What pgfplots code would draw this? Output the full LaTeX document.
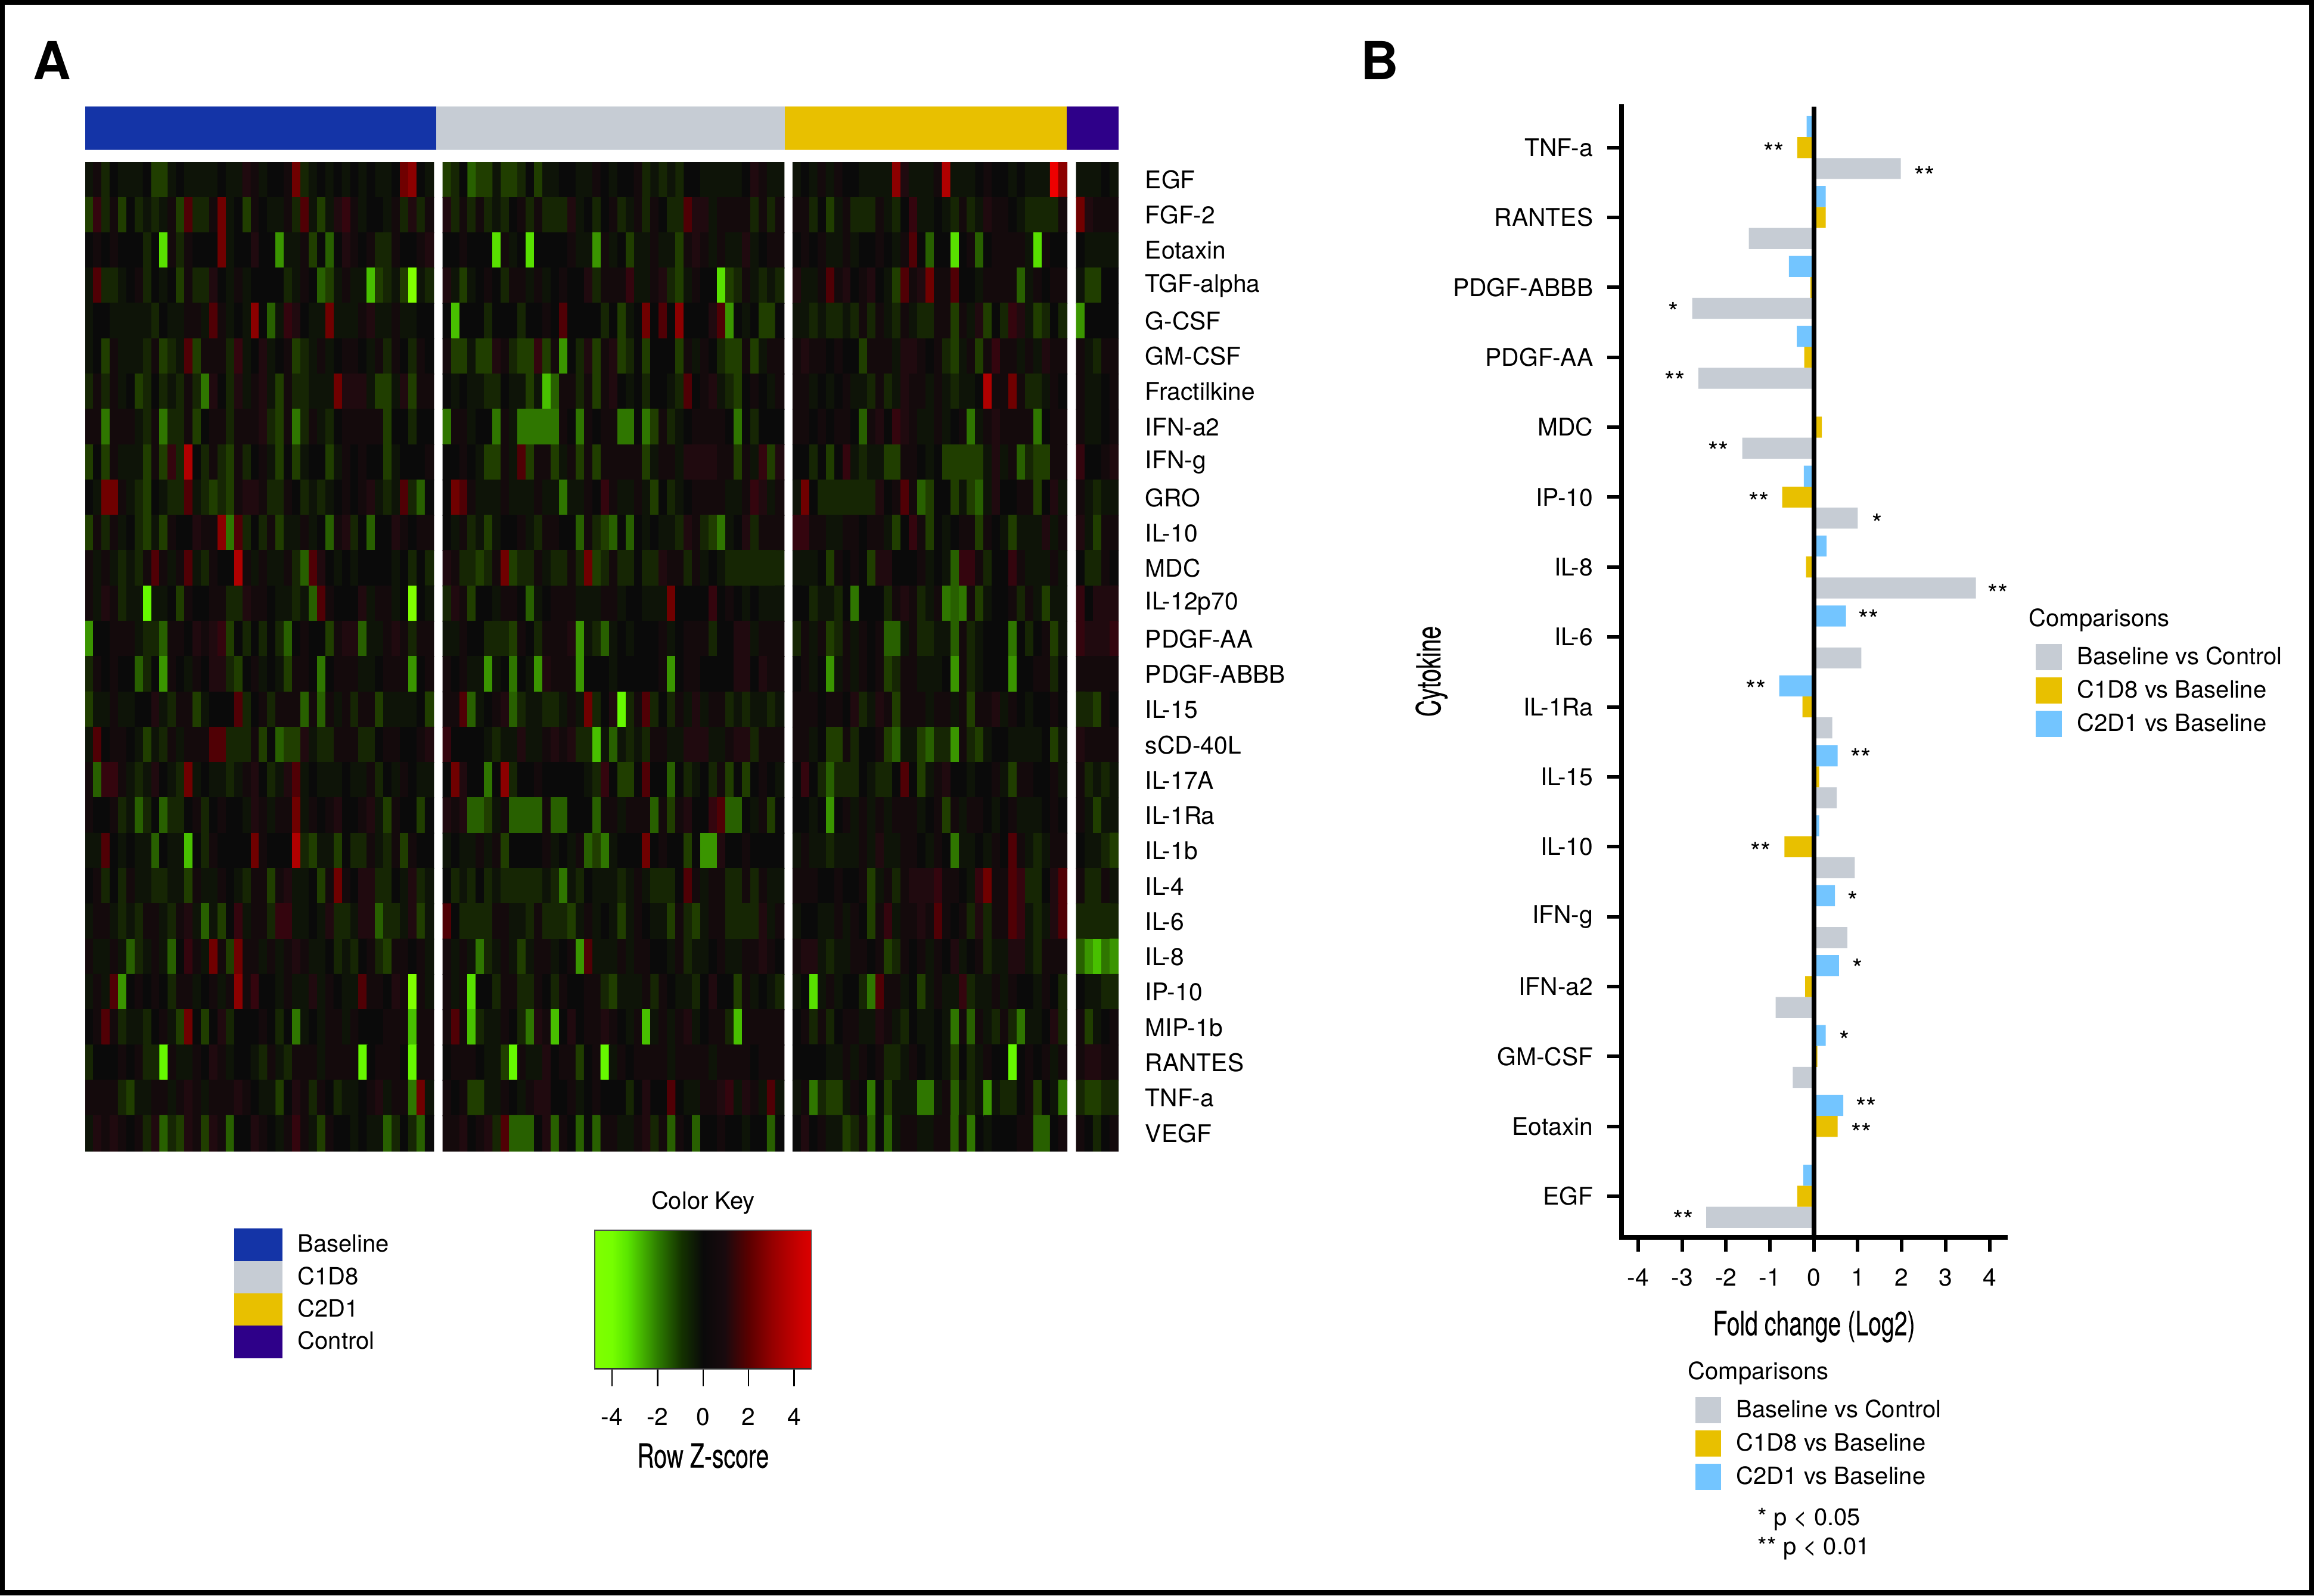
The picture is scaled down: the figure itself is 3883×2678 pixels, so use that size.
\documentclass[border=0pt]{standalone}
\usepackage{pgfplots}
\usepackage{pgfplotstable}
\usepackage{fontspec}
\pgfplotsset{compat=1.18}
\setmainfont{TeX Gyre Heros}
\newfontfamily\narrow[FakeStretch=0.7,FakeBold=0.3]{TeX Gyre Heros}
\newcommand\lab{\fontsize{10.2pt}{12pt}\selectfont}
\newcommand\leg{\fontsize{10pt}{12pt}\selectfont}
\newcommand\ttl{\fontsize{14pt}{16pt}\selectfont\narrow}
\definecolor{cblue}{RGB}{20,52,167}
\definecolor{cgray}{RGB}{198,204,212}
\definecolor{cyel}{RGB}{232,192,0}
\definecolor{cpur}{RGB}{46,0,137}
\definecolor{csky}{RGB}{115,197,255}
\definecolor{k0}{RGB}{128,255,0}\definecolor{k1}{RGB}{118,255,0}\definecolor{k2}{RGB}{90,230,0}
\definecolor{k3}{RGB}{45,125,0}\definecolor{k4}{RGB}{20,50,0}\definecolor{k5}{RGB}{10,10,10}
\definecolor{k6}{RGB}{25,10,14}\definecolor{k7}{RGB}{90,0,0}\definecolor{k8}{RGB}{150,0,0}
\definecolor{k9}{RGB}{205,0,0}\definecolor{k10}{RGB}{220,0,0}
\pgfdeclarehorizontalshading{hk}{100bp}{color(0bp)=(k0); color(25bp)=(k0); color(29bp)=(k1); color(32.5bp)=(k2); color(39.5bp)=(k3); color(45bp)=(k4); color(50bp)=(k5); color(55bp)=(k6); color(60.5bp)=(k7); color(66bp)=(k8); color(72.5bp)=(k9); color(75bp)=(k10); color(100bp)=(k10)}
\pgfplotsset{colormap={hm}{rgb255=(128,255,0) rgb255=(102,248,0) rgb255=(88,224,0) rgb255=(72,192,0) rgb255=(58,149,0) rgb255=(47,118,0) rgb255=(40,96,0) rgb255=(32,62,0) rgb255=(22,38,4) rgb255=(14,20,8) rgb255=(10,10,10) rgb255=(20,10,12) rgb255=(32,10,15) rgb255=(52,5,14) rgb255=(80,0,5) rgb255=(112,0,0) rgb255=(140,0,0) rgb255=(176,0,0) rgb255=(210,0,0) rgb255=(238,0,0) rgb255=(238,0,0)}}
\pgfplotstableread{
y gray yellow blue
15 1.98 -0.38 -0.165
14 -1.48 0.27 0.27
13 -2.77 -0.08 -0.57
12 -2.63 -0.22 -0.39
11 -1.63 0.18 0
10 1.0 -0.72 -0.23
9 3.69 -0.18 0.29
8 1.08 -0.05 0.73
7 0.42 -0.26 -0.79
6 0.52 0.12 0.54
5 0.93 -0.67 0.12
4 0.76 0.03 0.48
3 -0.87 -0.2 0.57
2 -0.48 0.08 0.27
1 0 0.54 0.67
0 -2.45 -0.38 -0.24
}\bardata
\begin{document}
\begin{tikzpicture}[x=0.25pt,y=-0.25pt,font=\lab]
\fill[black] (0,0) rectangle (3883,2678);
\fill[white] (8,8) rectangle (3875,2669);
\coordinate (pa) at (143,251.5);\coordinate (pb) at (143,1932);\coordinate (pc) at (2721,2077);\coordinate (pd) at (998,2298);
\node[font=\fontsize{22pt}{24pt}\selectfont\bfseries] at (87,101) {A};
\node[font=\fontsize{22pt}{24pt}\selectfont\bfseries] at (2315,101) {B};
% group bar
\begin{axis}[at={(pa)},anchor=south west,scale only axis,width=433.5pt,height=18.2pt,xmin=143,xmax=1877,ymin=0,ymax=1,hide axis]
\addplot[fill=cblue,draw=none] coordinates {(143,0)(732,0)(732,1)(143,1)} \closedcycle;
\addplot[fill=cgray,draw=none] coordinates {(732,0)(1317,0)(1317,1)(732,1)} \closedcycle;
\addplot[fill=cyel,draw=none] coordinates {(1317,0)(1790,0)(1790,1)(1317,1)} \closedcycle;
\addplot[fill=cpur,draw=none] coordinates {(1790,0)(1877,0)(1877,1)(1790,1)} \closedcycle;
\end{axis}
% heatmap; each line is one row, each value a colour level (twice the row Z-score)
\begin{axis}[at={(pb)},anchor=south west,scale only axis,width=433.5pt,height=415pt,
 xmin=143,xmax=1877,ymin=-0.5,ymax=27.5,y dir=reverse,clip=true,
 axis line style={draw=none},tick style={draw=none},xtick=\empty,
 ytick={0,...,27},yticklabels={EGF,FGF-2,Eotaxin,TGF-alpha,G-CSF,GM-CSF,Fractilkine,IFN-a2,IFN-g,GRO,IL-10,MDC,IL-12p70,PDGF-AA,PDGF-ABBB,IL-15,sCD-40L,IL-17A,IL-1Ra,IL-1b,IL-4,IL-6,IL-8,IP-10,MIP-1b,RANTES,TNF-a,VEGF},
 yticklabel pos=right,yticklabel style={anchor=west,inner sep=0pt,font=\lab,xshift=11pt},
 colormap name=hm,point meta min=-10,point meta max=10]
\addplot[matrix plot*,mesh/cols=42,point meta=explicit] table[header=false,row sep=crcr,meta index=0,x expr={143+13.917*(0.5+mod(\coordindex,42))},y expr={floor((\coordindex+0.5)/42)}]{
-1\\1\\-2\\0\\-1\\-1\\-1\\0\\-3\\-3\\-1\\0\\-1\\-1\\-1\\-1\\0\\-1\\-1\\2\\1\\-1\\0\\0\\1\\5\\-2\\-1\\0\\-1\\0\\-1\\0\\-1\\0\\-1\\-1\\0\\5\\6\\0\\-1\\
-3\\3\\-2\\1\\-3\\0\\-2\\-1\\-2\\-1\\1\\-3\\4\\-2\\-2\\1\\5\\-1\\0\\-3\\1\\0\\-1\\-1\\1\\-2\\4\\-1\\-3\\-1\\2\\3\\1\\-1\\0\\0\\-1\\1\\-2\\2\\-2\\1\\
0\\1\\0\\1\\0\\0\\0\\-2\\0\\-8\\1\\-2\\1\\0\\0\\0\\5\\-1\\0\\0\\2\\0\\0\\-6\\-1\\-1\\1\\-3\\0\\-4\\0\\2\\1\\0\\1\\-2\\-2\\1\\0\\0\\1\\2\\
-1\\4\\-2\\-2\\-1\\0\\1\\-2\\0\\-1\\0\\-3\\1\\-2\\-2\\2\\0\\-1\\1\\-1\\0\\0\\0\\0\\-2\\-1\\1\\0\\-4\\-3\\-1\\1\\-1\\-1\\-7\\-3\\-2\\-1\\-3\\-10\\-1\\-2\\
-1\\0\\0\\-1\\-1\\-1\\-1\\-1\\-2\\0\\-1\\-1\\1\\1\\-1\\4\\1\\-1\\0\\-1\\6\\0\\-4\\-1\\3\\2\\0\\-1\\-1\\5\\-1\\-1\\-1\\1\\2\\-1\\-1\\1\\-1\\-1\\0\\0\\
-1\\0\\-3\\1\\-1\\-1\\-1\\-2\\1\\-3\\-2\\-1\\4\\-3\\1\\1\\1\\-2\\3\\-1\\0\\2\\-1\\0\\1\\-3\\-2\\-1\\1\\-1\\0\\1\\1\\0\\-1\\1\\-2\\1\\0\\-2\\1\\0\\
-2\\1\\-2\\1\\-1\\0\\-3\\-2\\0\\-2\\-1\\-2\\1\\-2\\-5\\2\\0\\-2\\2\\-1\\1\\2\\-1\\-3\\1\\-2\\-2\\-1\\-1\\-1\\5\\2\\2\\2\\-1\\-3\\-3\\-1\\2\\-3\\1\\1\\
1\\1\\-5\\1\\1\\1\\-1\\-2\\1\\-5\\-2\\-2\\1\\-3\\0\\1\\1\\-2\\1\\1\\1\\2\\-2\\-3\\1\\-5\\-2\\1\\-1\\-2\\0\\1\\1\\1\\1\\1\\-3\\0\\0\\-2\\0\\0\\
-3\\0\\-3\\1\\-1\\-1\\-1\\-3\\1\\-3\\3\\-2\\7\\0\\-2\\1\\-2\\-3\\1\\-2\\0\\1\\-1\\-3\\0\\-3\\-1\\0\\0\\-3\\-1\\1\\0\\1\\0\\0\\-3\\-1\\0\\0\\0\\1\\
0\\-1\\5\\5\\1\\-1\\-2\\-3\\0\\-1\\-2\\-2\\4\\-1\\-2\\-3\\-2\\-3\\1\\2\\2\\1\\-2\\-2\\1\\0\\-2\\-1\\-2\\-1\\0\\1\\0\\1\\2\\-1\\-2\\-1\\4\\-2\\-4\\0\\
-3\\1\\-2\\1\\-1\\0\\-2\\-3\\-1\\-3\\1\\0\\0\\2\\1\\1\\6\\-5\\4\\-2\\0\\-2\\1\\-3\\-1\\-1\\1\\-1\\0\\-4\\1\\2\\-2\\0\\-4\\0\\0\\2\\1\\0\\1\\1\\
1\\-1\\1\\-1\\-2\\-1\\-2\\1\\4\\1\\-1\\1\\4\\-1\\-2\\1\\0\\0\\7\\1\\-1\\1\\-1\\-1\\1\\-2\\-4\\4\\2\\0\\-1\\0\\-1\\0\\0\\0\\0\\-1\\0\\-2\\0\\-2\\
1\\-1\\2\\1\\-2\\-1\\-1\\-9\\-1\\-1\\0\\-3\\1\\0\\0\\1\\1\\-2\\-2\\2\\1\\1\\0\\-1\\-1\\-2\\-1\\-4\\4\\1\\0\\0\\0\\2\\-1\\1\\1\\-1\\0\\-10\\0\\-1\\
-6\\0\\0\\1\\1\\1\\-1\\-2\\-2\\-4\\1\\1\\0\\2\\1\\2\\3\\-3\\0\\-2\\0\\-2\\0\\-2\\-4\\0\\1\\0\\0\\-3\\1\\2\\2\\-4\\-1\\-1\\1\\2\\1\\-2\\1\\1\\
-2\\1\\0\\1\\0\\0\\-4\\-2\\0\\-6\\1\\0\\-1\\1\\0\\2\\2\\-2\\-3\\0\\1\\-1\\0\\-1\\-3\\1\\1\\0\\-5\\0\\1\\1\\1\\-1\\-1\\0\\1\\1\\1\\-6\\0\\1\\
-3\\-1\\-1\\1\\-1\\-1\\0\\0\\2\\-1\\-2\\1\\1\\-3\\-1\\0\\0\\0\\4\\-2\\0\\1\\-2\\1\\1\\1\\-4\\1\\-4\\1\\-1\\1\\-2\\1\\1\\-3\\-1\\-1\\-1\\-1\\0\\-3\\
-1\\4\\0\\1\\1\\0\\-1\\-3\\-1\\-2\\1\\-1\\1\\1\\1\\4\\4\\-2\\-2\\-2\\1\\-3\\0\\-4\\-3\\-3\\2\\-1\\-2\\-2\\1\\1\\1\\-2\\-2\\0\\1\\1\\0\\0\\1\\2\\
1\\-4\\3\\3\\1\\-1\\-2\\-1\\2\\0\\-1\\-2\\5\\-1\\0\\-1\\-1\\-2\\-1\\1\\2\\0\\-2\\-1\\2\\4\\-1\\0\\-1\\-1\\-1\\0\\-1\\-1\\1\\-2\\0\\-1\\1\\0\\-1\\-1\\
1\\0\\0\\1\\-2\\-1\\-4\\-2\\0\\-4\\-2\\-2\\0\\1\\-2\\0\\1\\0\\0\\-1\\2\\1\\-1\\1\\1\\5\\-1\\1\\0\\1\\2\\0\\0\\1\\2\\-1\\-3\\1\\0\\0\\-3\\0\\
-1\\-1\\4\\0\\-1\\0\\-1\\-1\\-4\\0\\-1\\-1\\-7\\0\\-2\\1\\0\\0\\0\\0\\5\\1\\0\\0\\0\\7\\-2\\-3\\-1\\-1\\-3\\0\\-2\\-2\\1\\-1\\-2\\1\\-3\\1\\0\\0\\
0\\1\\-2\\0\\-2\\1\\-1\\-1\\-2\\-2\\-1\\-1\\-3\\1\\-1\\-1\\1\\0\\-1\\-2\\1\\1\\-3\\1\\2\\-1\\-1\\0\\-3\\1\\5\\1\\0\\2\\2\\-2\\-2\\0\\-1\\2\\-2\\-1\\
-1\\1\\1\\-1\\-2\\-1\\-2\\1\\1\\-1\\-2\\1\\2\\-1\\-4\\-1\\-3\\0\\3\\-1\\1\\1\\-2\\3\\3\\-1\\-1\\0\\-1\\2\\-2\\-2\\-1\\2\\2\\-4\\-2\\-2\\-1\\2\\-3\\-1\\
1\\-1\\-1\\1\\-1\\-4\\-2\\-1\\1\\-1\\-4\\0\\3\\1\\-1\\5\\1\\-3\\5\\1\\1\\-1\\1\\-1\\1\\2\\1\\-1\\-1\\0\\-2\\-1\\-2\\0\\1\\-2\\-3\\1\\1\\0\\1\\-1\\
-1\\1\\-1\\4\\-6\\0\\1\\0\\1\\0\\-2\\1\\1\\-1\\0\\1\\-1\\1\\6\\1\\3\\0\\0\\-1\\1\\-1\\-1\\2\\-1\\1\\0\\-1\\-1\\4\\1\\1\\0\\2\\1\\-10\\1\\-1\\
0\\1\\4\\1\\-2\\-1\\-1\\-2\\0\\1\\-1\\-3\\5\\0\\-3\\0\\2\\-2\\0\\0\\0\\1\\0\\-2\\0\\-5\\-1\\0\\-1\\1\\1\\-1\\1\\0\\0\\0\\1\\1\\1\\-7\\1\\1\\
-2\\0\\0\\0\\1\\0\\1\\-2\\-2\\-9\\1\\-1\\-1\\1\\0\\2\\1\\-1\\0\\0\\-1\\-2\\1\\-1\\-2\\1\\1\\1\\-1\\1\\1\\1\\1\\-9\\0\\1\\1\\1\\0\\-9\\1\\1\\
1\\1\\1\\1\\-2\\-3\\-1\\-1\\1\\1\\-1\\1\\2\\1\\-1\\1\\1\\1\\2\\1\\0\\-1\\-1\\-3\\0\\2\\1\\-2\\1\\0\\-2\\-1\\-1\\0\\1\\2\\-1\\1\\1\\-5\\5\\-1\\
-1\\2\\1\\2\\1\\0\\1\\-2\\2\\-4\\-2\\-3\\2\\1\\-3\\2\\1\\-4\\0\\0\\2\\1\\0\\-1\\1\\3\\1\\-1\\-3\\1\\0\\0\\-1\\0\\-1\\-1\\-4\\-2\\0\\-2\\-4\\0\\
};
\addplot[matrix plot*,mesh/cols=41,point meta=explicit] table[header=false,row sep=crcr,meta index=0,x expr={743.4+13.953*(0.5+mod(\coordindex,41))},y expr={floor((\coordindex+0.5)/41)}]{
-3\\-2\\0\\-4\\-3\\-3\\-1\\-3\\-3\\-2\\0\\-3\\-1\\-1\\0\\0\\-1\\-1\\1\\0\\-1\\0\\0\\1\\-2\\-1\\-2\\-1\\-2\\0\\0\\-1\\-1\\-1\\-1\\-1\\0\\2\\1\\-1\\-1\\
2\\-2\\1\\-2\\1\\-2\\-1\\-2\\0\\1\\-2\\1\\-2\\-2\\-2\\2\\-1\\0\\-2\\0\\1\\-2\\-1\\1\\-2\\1\\0\\-2\\-2\\4\\2\\2\\-1\\1\\1\\1\\1\\-2\\1\\-2\\1\\
0\\0\\1\\0\\0\\0\\-8\\1\\-1\\0\\-8\\0\\0\\0\\0\\1\\-1\\-1\\-6\\1\\-1\\0\\-3\\-1\\-1\\1\\-1\\-1\\-3\\1\\2\\1\\-1\\1\\-1\\-1\\2\\-1\\0\\1\\1\\
2\\-1\\-3\\-1\\0\\1\\0\\-2\\1\\1\\-1\\1\\-1\\0\\1\\0\\0\\2\\-2\\1\\1\\1\\3\\-1\\-1\\1\\2\\-2\\-3\\-1\\1\\0\\0\\-8\\-3\\-2\\1\\-1\\-2\\-1\\-2\\
0\\-7\\0\\0\\0\\-2\\0\\0\\0\\-2\\0\\0\\1\\0\\4\\0\\0\\0\\0\\-2\\0\\-3\\-1\\0\\5\\0\\4\\0\\6\\0\\0\\0\\2\\4\\-6\\0\\-1\\0\\-3\\-3\\0\\
1\\-3\\-3\\-1\\-3\\-3\\2\\1\\-2\\-3\\-3\\3\\-3\\1\\-6\\0\\-2\\2\\-3\\1\\2\\-3\\-2\\0\\-3\\0\\0\\0\\-3\\1\\-1\\1\\0\\-2\\-3\\-3\\1\\-3\\-1\\1\\1\\
0\\-1\\0\\-1\\-1\\-2\\-2\\0\\-1\\-1\\-3\\-1\\-7\\-4\\1\\1\\-2\\1\\-3\\1\\2\\0\\-1\\0\\-2\\0\\0\\-1\\-2\\4\\0\\1\\2\\-1\\-2\\-3\\0\\1\\0\\-1\\1\\
-5\\1\\1\\-1\\0\\0\\-5\\1\\-1\\-5\\-5\\-5\\-5\\-5\\1\\0\\-5\\1\\0\\1\\1\\-5\\-5\\0\\-5\\-3\\1\\-2\\-1\\0\\1\\1\\1\\1\\0\\-5\\0\\-2\\0\\0\\0\\
0\\0\\1\\0\\-1\\-3\\-3\\1\\-1\\4\\-3\\1\\1\\-3\\-1\\1\\-3\\1\\-3\\1\\1\\1\\1\\1\\-3\\-1\\1\\1\\-1\\2\\2\\2\\2\\1\\1\\-3\\1\\-1\\3\\-3\\2\\
0\\5\\4\\1\\-1\\-1\\-1\\1\\-1\\-1\\-1\\1\\-1\\-1\\-5\\-1\\-1\\1\\0\\3\\1\\-1\\-1\\1\\-1\\-3\\0\\-2\\-1\\0\\1\\1\\1\\1\\-1\\-1\\1\\3\\2\\-1\\1\\
0\\-1\\1\\-2\\-1\\-3\\-1\\0\\0\\1\\-1\\-2\\1\\1\\0\\0\\-4\\1\\-2\\-3\\-4\\0\\-4\\0\\-1\\0\\-1\\-1\\-2\\2\\1\\-2\\-3\\-5\\-1\\0\\2\\-2\\1\\1\\1\\
2\\1\\-2\\-2\\-3\\-2\\1\\5\\-3\\-2\\-2\\1\\-1\\-2\\-2\\1\\-2\\5\\-3\\-2\\1\\-2\\-2\\0\\-2\\-2\\2\\1\\1\\-2\\1\\-1\\0\\-1\\-2\\-2\\-2\\-2\\-2\\-2\\-2\\
-2\\2\\1\\-3\\0\\0\\-1\\1\\1\\0\\-4\\-1\\0\\1\\1\\1\\-1\\-1\\-1\\1\\1\\-1\\0\\0\\-1\\-1\\-1\\5\\0\\0\\0\\0\\3\\0\\1\\0\\-1\\0\\-1\\-1\\-1\\
-1\\-1\\1\\0\\0\\-2\\-2\\-2\\-3\\1\\0\\-2\\1\\1\\1\\2\\-6\\-1\\-2\\-4\\-1\\0\\-1\\0\\0\\0\\1\\-1\\0\\1\\1\\1\\-2\\0\\0\\2\\2\\-1\\1\\1\\1\\
1\\0\\1\\-1\\-1\\-6\\-1\\0\\-5\\0\\-1\\-6\\2\\1\\1\\1\\-6\\0\\0\\0\\-1\\0\\0\\0\\0\\0\\1\\-6\\0\\1\\1\\0\\0\\0\\0\\2\\2\\0\\2\\1\\1\\
1\\1\\4\\-4\\-1\\0\\1\\2\\-4\\-2\\-1\\-1\\-2\\-2\\-1\\1\\-1\\5\\-2\\0\\2\\-9\\-2\\1\\4\\-2\\0\\-2\\1\\-1\\2\\-1\\1\\1\\-2\\-1\\-2\\-1\\-1\\-2\\-1\\
3\\0\\0\\0\\0\\-1\\-2\\-1\\-1\\2\\-1\\-1\\1\\2\\1\\2\\-2\\-2\\-7\\-1\\-4\\-1\\-2\\-1\\-2\\1\\1\\-1\\-1\\2\\2\\2\\-1\\-1\\1\\2\\2\\-2\\1\\1\\1\\
0\\5\\2\\0\\0\\-5\\0\\6\\-2\\0\\0\\1\\0\\0\\0\\0\\0\\-1\\-2\\3\\0\\-3\\-3\\0\\4\\0\\0\\-4\\0\\-2\\-1\\0\\-2\\1\\-3\\0\\-3\\0\\1\\0\\-1\\
2\\1\\2\\-4\\-4\\-3\\-1\\1\\-4\\-4\\-4\\-4\\1\\-4\\-4\\0\\0\\0\\-4\\1\\1\\-1\\1\\1\\1\\-4\\1\\-3\\1\\2\\0\\0\\3\\4\\-4\\-4\\0\\-1\\1\\-3\\0\\
-1\\0\\-1\\-1\\1\\-1\\1\\-3\\0\\0\\0\\0\\1\\-1\\0\\-1\\1\\-4\\-3\\-5\\-1\\0\\0\\0\\5\\0\\1\\0\\0\\-3\\0\\-6\\-6\\2\\0\\0\\1\\0\\0\\0\\0\\
0\\-2\\-1\\-2\\0\\-2\\-1\\-2\\-2\\-2\\-2\\-2\\-1\\-2\\-5\\-1\\-2\\0\\-1\\-1\\-1\\-2\\-1\\1\\-1\\-2\\-2\\-2\\0\\4\\1\\-1\\1\\1\\-2\\-2\\1\\-2\\1\\-1\\-1\\
4\\0\\-2\\-2\\-2\\-2\\1\\1\\-1\\-1\\-2\\1\\-2\\-2\\-2\\-3\\-1\\1\\-1\\0\\-1\\-3\\-1\\1\\0\\-1\\-1\\-3\\1\\-2\\-3\\-1\\1\\1\\-2\\-2\\-2\\-2\\2\\-1\\1\\
1\\-1\\1\\-1\\-5\\-2\\-1\\1\\-1\\-3\\-1\\1\\1\\-1\\0\\1\\-6\\4\\-1\\-1\\-1\\1\\-1\\1\\1\\0\\0\\-1\\1\\-2\\-1\\-1\\0\\1\\-1\\-1\\1\\1\\2\\1\\0\\
1\\-1\\1\\-8\\0\\0\\-2\\1\\1\\-2\\-2\\1\\0\\-2\\1\\0\\0\\1\\1\\-2\\-3\\-1\\-1\\-1\\1\\-2\\1\\0\\-1\\-1\\-2\\0\\2\\0\\0\\-3\\1\\-1\\0\\-1\\-2\\
1\\4\\1\\-7\\-2\\-1\\-1\\1\\0\\-2\\-5\\2\\1\\-7\\0\\2\\0\\1\\1\\2\\1\\0\\-1\\1\\-7\\-1\\1\\-1\\1\\2\\-1\\0\\1\\1\\-2\\-7\\1\\1\\1\\1\\1\\
0\\1\\1\\1\\0\\-1\\-1\\-3\\-9\\1\\-1\\-1\\2\\0\\1\\1\\-3\\0\\1\\-9\\-1\\1\\0\\1\\1\\1\\1\\-1\\1\\1\\1\\1\\-1\\1\\1\\1\\1\\0\\1\\1\\1\\
1\\0\\1\\-3\\-3\\-1\\-1\\1\\0\\-1\\1\\2\\2\\0\\0\\1\\-1\\0\\1\\0\\0\\0\\-2\\0\\2\\0\\0\\4\\0\\-1\\-1\\1\\1\\2\\3\\-1\\2\\1\\-1\\4\\-1\\
1\\1\\2\\0\\1\\2\\-2\\4\\-4\\-4\\-4\\0\\2\\-4\\1\\0\\-4\\0\\-4\\1\\1\\-1\\-1\\1\\2\\-2\\1\\-4\\1\\0\\-4\\0\\0\\1\\0\\0\\-1\\0\\0\\-4\\0\\
};
\addplot[matrix plot*,mesh/cols=33,point meta=explicit] table[header=false,row sep=crcr,meta index=0,x expr={1330.7+13.93*(0.5+mod(\coordindex,33))},y expr={floor((\coordindex+0.5)/33)}]{
-1\\0\\-1\\1\\-1\\1\\0\\0\\-1\\-1\\-1\\-1\\6\\2\\-1\\-1\\-1\\1\\7\\-1\\-1\\-1\\0\\1\\0\\0\\-1\\0\\-1\\-1\\-1\\9\\6\\
1\\1\\-2\\0\\-3\\-1\\1\\-2\\-2\\-2\\1\\-1\\-2\\0\\3\\-1\\-1\\0\\-1\\-2\\1\\-2\\-1\\2\\1\\1\\0\\-1\\-2\\-2\\-2\\-2\\1\\
0\\1\\0\\1\\-1\\-1\\1\\-1\\0\\0\\1\\0\\-1\\1\\4\\0\\-4\\0\\0\\-8\\0\\1\\-4\\0\\1\\1\\1\\1\\-1\\-8\\1\\0\\0\\
2\\-1\\-1\\1\\4\\1\\2\\0\\1\\2\\0\\-1\\-3\\4\\1\\2\\5\\1\\1\\4\\0\\0\\-1\\1\\1\\1\\1\\-4\\-1\\1\\0\\1\\1\\
-1\\-1\\-2\\-1\\-2\\-2\\-1\\-2\\1\\-2\\1\\-1\\-2\\1\\-1\\-2\\-2\\1\\1\\-3\\1\\-1\\2\\-3\\0\\-2\\3\\2\\-1\\-3\\-2\\0\\-2\\
1\\2\\1\\1\\0\\1\\0\\0\\-3\\1\\1\\1\\-1\\2\\2\\1\\0\\1\\-2\\-3\\-1\\1\\-3\\1\\3\\1\\1\\-1\\1\\-1\\2\\1\\1\\
1\\1\\-1\\0\\-1\\0\\1\\-1\\-1\\-2\\1\\-2\\-1\\2\\1\\1\\-1\\1\\-1\\-2\\-1\\-1\\0\\7\\1\\1\\5\\1\\-2\\-2\\-1\\1\\0\\
1\\1\\0\\1\\0\\1\\1\\0\\-4\\1\\2\\0\\3\\2\\1\\-1\\-1\\1\\-1\\0\\1\\-5\\-1\\1\\2\\1\\1\\1\\1\\-5\\0\\1\\1\\
0\\0\\-2\\0\\-3\\0\\3\\-1\\-2\\-1\\-1\\-3\\-3\\1\\1\\0\\-1\\0\\-3\\-3\\-3\\-3\\-3\\-1\\2\\-1\\1\\-4\\-2\\-3\\-3\\1\\1\\
-1\\5\\0\\-2\\-2\\-2\\-2\\-2\\-2\\-2\\2\\0\\1\\4\\1\\-4\\-3\\0\\0\\-3\\-1\\-3\\-4\\-1\\2\\0\\0\\1\\1\\-3\\0\\2\\-1\\
3\\3\\1\\1\\-1\\-1\\1\\1\\0\\1\\1\\-1\\-3\\0\\3\\1\\-3\\0\\-1\\0\\1\\1\\-3\\1\\0\\-1\\-3\\-1\\-1\\-1\\2\\-1\\1\\
-1\\-1\\-1\\0\\-3\\1\\0\\1\\0\\-3\\2\\2\\0\\0\\0\\1\\-1\\0\\-1\\-4\\3\\3\\1\\-2\\0\\0\\3\\1\\-1\\-1\\-1\\1\\-1\\
0\\0\\-2\\-1\\-1\\-2\\0\\-5\\0\\0\\0\\-2\\1\\2\\1\\-2\\-1\\1\\-5\\-4\\-5\\1\\-3\\-1\\0\\0\\1\\-2\\1\\-1\\-3\\-1\\-1\\
-2\\1\\-1\\1\\-3\\-2\\1\\-1\\1\\0\\1\\-4\\-4\\-1\\1\\-2\\-2\\-1\\-1\\-4\\1\\-2\\-1\\0\\0\\0\\-5\\0\\-2\\0\\1\\-3\\-1\\
0\\1\\-1\\0\\-6\\-1\\1\\-1\\1\\0\\1\\-3\\-2\\1\\1\\-1\\-1\\-1\\0\\-6\\1\\-2\\-1\\0\\0\\0\\-6\\0\\0\\1\\1\\-2\\0\\
1\\1\\1\\0\\1\\1\\0\\2\\-2\\-1\\2\\1\\-3\\1\\1\\1\\-1\\1\\1\\-1\\1\\-3\\1\\1\\2\\-1\\1\\0\\-1\\0\\0\\1\\0\\
1\\1\\-1\\0\\-3\\-3\\1\\-2\\0\\0\\1\\-3\\-4\\-1\\-1\\-3\\-4\\-2\\-2\\-6\\1\\-2\\-3\\-1\\0\\0\\-1\\-1\\-1\\-1\\0\\-3\\-1\\
0\\3\\0\\-2\\-4\\-2\\-2\\-2\\0\\-1\\-2\\-2\\0\\4\\0\\-3\\-1\\1\\2\\0\\0\\-1\\0\\0\\1\\-1\\-3\\1\\1\\0\\0\\1\\-1\\
0\\0\\-1\\0\\-6\\0\\1\\-1\\1\\-1\\1\\-1\\1\\1\\1\\-1\\0\\1\\-3\\1\\-1\\1\\1\\0\\-1\\0\\1\\-1\\-1\\-1\\0\\1\\0\\
-1\\1\\-1\\-1\\-2\\-1\\-1\\-1\\1\\-1\\2\\-1\\-1\\1\\1\\0\\-1\\1\\0\\-5\\-1\\-1\\0\\-1\\1\\0\\4\\1\\-1\\-2\\-1\\1\\1\\
1\\1\\1\\0\\0\\1\\0\\0\\1\\-3\\-1\\1\\-2\\1\\2\\2\\2\\3\\1\\1\\0\\-1\\3\\5\\1\\1\\4\\3\\-2\\-2\\0\\2\\4\\
-1\\0\\0\\-1\\-1\\1\\-1\\1\\0\\-3\\1\\3\\-1\\1\\1\\2\\1\\4\\1\\0\\1\\-2\\2\\-2\\1\\1\\4\\3\\-1\\-2\\-1\\2\\4\\
1\\2\\2\\-1\\-2\\-1\\-1\\1\\1\\0\\1\\-3\\-2\\1\\0\\1\\-1\\1\\0\\2\\-1\\0\\1\\-2\\-1\\-1\\2\\2\\-1\\-2\\1\\1\\1\\
-1\\0\\-8\\-1\\1\\-1\\0\\0\\-2\\-5\\4\\1\\1\\-1\\0\\-3\\-1\\1\\-1\\-1\\3\\-2\\-1\\-1\\1\\-1\\1\\0\\0\\-1\\1\\0\\-2\\
0\\1\\-2\\1\\-2\\0\\1\\1\\-1\\-1\\2\\1\\-1\\-2\\0\\-1\\-1\\0\\-1\\-5\\1\\-4\\1\\-1\\-2\\1\\-2\\-5\\-1\\-1\\0\\2\\-2\\
0\\0\\0\\0\\-1\\-1\\1\\-1\\1\\0\\1\\-2\\-2\\-1\\1\\0\\-1\\0\\-1\\-3\\0\\-2\\-1\\1\\0\\0\\-9\\0\\1\\0\\1\\-1\\1\\
-1\\1\\-5\\-2\\-3\\-3\\-1\\1\\0\\-5\\0\\-3\\-1\\-1\\-1\\-5\\-5\\-1\\1\\-4\\-1\\-2\\-1\\-6\\-1\\-2\\-2\\0\\1\\-3\\0\\-1\\-5\\
0\\2\\0\\1\\-1\\-1\\-3\\-2\\1\\-4\\0\\-4\\-1\\1\\1\\-1\\-1\\1\\1\\-4\\1\\-5\\0\\-1\\0\\0\\0\\1\\1\\-4\\-4\\0\\1\\
};
\addplot[matrix plot*,mesh/cols=5,point meta=explicit] table[header=false,row sep=crcr,meta index=0,x expr={1806.4+14.08*(0.5+mod(\coordindex,5))},y expr={floor((\coordindex+0.5)/5)}]{
-1\\-1\\-1\\0\\-1\\
5\\2\\1\\1\\1\\
0\\-1\\-1\\-1\\-1\\
-1\\-3\\-3\\0\\0\\
-6\\0\\0\\0\\0\\
1\\-1\\-2\\1\\1\\
1\\-1\\-1\\0\\1\\
1\\-1\\-1\\0\\1\\
3\\0\\0\\1\\2\\
1\\-1\\-2\\-1\\-1\\
2\\-1\\-3\\1\\1\\
0\\-2\\-2\\1\\0\\
3\\0\\2\\2\\2\\
3\\2\\2\\2\\3\\
1\\1\\1\\1\\1\\
-2\\-2\\-3\\1\\0\\
2\\1\\1\\1\\1\\
1\\-2\\-1\\-2\\-1\\
1\\-1\\-3\\-1\\-1\\
0\\-1\\-1\\-2\\-3\\
1\\-2\\-2\\1\\-1\\
-2\\-2\\-2\\-2\\-2\\
-4\\-6\\-7\\-5\\-6\\
0\\-1\\-1\\-2\\-2\\
1\\-3\\-1\\0\\1\\
1\\2\\2\\1\\1\\
-2\\-3\\-3\\-2\\-2\\
1\\0\\-2\\0\\1\\
};
\end{axis}
% bars
\begin{axis}[at={(pc)},anchor=south west,scale only axis,width=161pt,height=474.5pt,
 xmin=-4.38,xmax=4.36,ymin=-0.588,ymax=15.585,
 axis x line*=bottom,axis y line*=left,axis line style={-,line width=2pt,line cap=rect},
 tick style={black,line width=1.5pt},tick align=outside,major tick length=6pt,
 xtick={-4,...,4},xticklabels={-4,-3,-2,-1,0,1,2,3,4},
 ytick={0,...,15},yticklabels={EGF,Eotaxin,GM-CSF,IFN-a2,IFN-g,IL-10,IL-15,IL-1Ra,IL-6,IL-8,IP-10,MDC,PDGF-AA,PDGF-ABBB,RANTES,TNF-a},
 tick label style={font=\lab,inner sep=0pt},xticklabel style={yshift=-7pt},yticklabel style={xshift=-5.75pt},
 xlabel={\ttl Fold change (Log2)},ylabel={\ttl Cytokine},
 xlabel style={at={(axis description cs:0.5016,-0.079)},anchor=center},
 ylabel style={at={(axis description cs:-0.495,0.5005)},anchor=center}]
\addplot[xbar,bar width=8.8pt,bar shift=-8.8pt,fill=cgray,draw=none] table[x=gray,y=y]{\bardata};
\addplot[xbar,bar width=8.8pt,bar shift=0pt,fill=cyel,draw=none] table[x=yellow,y=y]{\bardata};
\addplot[xbar,bar width=8.8pt,bar shift=8.8pt,fill=csky,draw=none] table[x=blue,y=y]{\bardata};
\addplot[draw=none,mark=none,point meta=explicit symbolic,nodes near coords,every node near coord/.style={anchor=center,inner sep=0pt,font=\fontsize{11pt}{12pt}\selectfont,yshift=-2pt}] table[x=x,y=y,meta=s]{
x y s
-0.91 15 **
2.52 14.66 **
-3.2 12.72 *
-3.16 11.73 **
-2.17 10.72 **
-1.25 10 **
1.44 9.69 *
4.19 8.69 **
1.25 8.32 **
-1.32 7.32 **
1.07 6.34 **
-1.21 5 **
0.89 4.29 *
0.99 3.33 *
0.7 2.3 *
1.19 1.34 **
1.08 0.98 **
-2.98 -0.27 **
};
\draw[line width=2pt] (axis cs:0,-0.588)--(axis cs:0,15.585);
\end{axis}
% color key
\begin{axis}[at={(pd)},anchor=south west,scale only axis,width=90.9pt,height=58.25pt,
 xmin=-4.76,xmax=4.76,ymin=0,ymax=1,ytick=\empty,xtick={-4,-2,0,2,4},xticklabels={-4,-2,0,2,4},
 axis on top,axis line style={line width=0.4pt,draw=black!70},
 tick style={black,line width=0.6pt},tick align=outside,xtick pos=bottom,major tick length=7.25pt,
 tick label style={font=\lab,inner sep=0pt},xticklabel style={yshift=-9pt},
 xlabel={\ttl Row Z-score},xlabel style={at={(axis description cs:0.5,-0.625)},anchor=center},
 title={\leg Color Key},title style={at={(axis description cs:0.5,1.097)},anchor=center}]
\fill[shading=hk] (rel axis cs:0,0) rectangle (rel axis cs:1,1);
\draw[line width=1pt] (rel axis cs:0,0)--(rel axis cs:1,0);
\end{axis}
% heat legend
\foreach \c/\t/\y in {cblue/Baseline/2062,cgray/C1D8/2116.5,cyel/C2D1/2171,cpur/Control/2225}{
 \fill[\c] (393,\y) rectangle (474,\y+54.5);
 \node[anchor=west,inner sep=0pt,font=\leg] at (499,\y+25) {\t};
}
% bar legends
\node[anchor=west,inner sep=0pt,font=\leg] at (3404,1041) {Comparisons};
\foreach \c/\t/\y in {cgray/Baseline vs Control/1081,cyel/C1D8 vs Baseline/1137,csky/C2D1 vs Baseline/1193}{
 \fill[\c] (3416,\y) rectangle (3460,\y+44);
 \node[anchor=west,inner sep=0pt,font=\leg] at (3485,\y+20) {\t};
}
\node[anchor=west,inner sep=0pt,font=\leg] at (2832,2305) {Comparisons};
\foreach \c/\t/\y in {cgray/Baseline vs Control/2345,cyel/C1D8 vs Baseline/2401,csky/C2D1 vs Baseline/2457}{
 \fill[\c] (2845,\y) rectangle (2888,\y+44);
 \node[anchor=west,inner sep=0pt,font=\leg] at (2913,\y+20) {\t};
}
\node[anchor=west,inner sep=0pt,font=\leg] at (2949,2550) {* p < 0.05};
\node[anchor=west,inner sep=0pt,font=\leg] at (2949,2599) {** p < 0.01};
\end{tikzpicture}
\end{document}
